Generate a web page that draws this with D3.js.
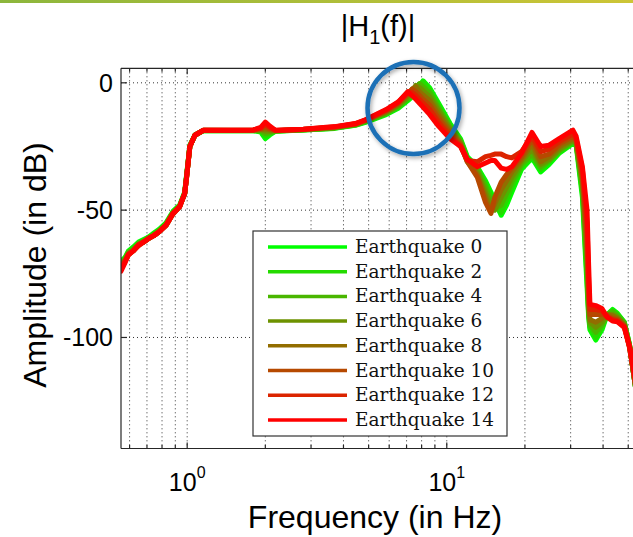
<!DOCTYPE html>
<html><head><meta charset="utf-8">
<script src="https://cdn.jsdelivr.net/npm/d3@7"></script>
<style>html,body{margin:0;padding:0;background:#fff;}svg{display:block;}</style>
</head><body>
<script>
// ---------- DATA ----------
const freqs = [
 0.556,0.577,0.594,0.62,0.65,0.68,0.712,0.744,0.78,0.829,0.881,0.935,0.978,0.995,1.024,1.071,1.156,
 1.5,1.8,1.92,2.0,2.08,2.19,2.8,3.7,4.44,
 4.86,5.84,6.5,7.08,7.35,7.6,7.85,8.1,8.6,9.3,10.3,11.3,
 12.0,13.1,14.1,14.8,15.3,16.2,17.0,17.8,19.4,21.3,23.0,24.8,27.2,30.6,31.5,
 33.3,34.7,35.2,35.6,37.5,39.6,41.5,43.5,45.4,48.3,50.6,52.9,55.4,57.7,62
];
const eq0 = [
 -70.0,-68.5,-66.0,-64.5,-62.5,-61.5,-60.5,-59.0,-57.5,-55.0,-50.5,-48.0,-43.0,-36.0,-24.5,-20.5,-18.8,
 -18.8,-18.8,-19.3,-21.9,-20.5,-19.0,-18.5,-17.9,-16.7,
 -15.5,-12.5,-10.0,-7.0,-5.5,-4.0,-1.5,0.8,-2.0,-8.0,-16.0,-22.0,
 -29,-33,-38.5,-43,-46.5,-52,-48,-43,-34,-29.5,-35,-32,-27.5,-23.8,-24.5,
 -45,-80,-92,-97,-101,-97,-91,-89,-90.5,-94,-103,-117,-132,-140,-155
];
const eq2 = [
 -70.5,-69.0,-66.5,-65.0,-63.0,-62.0,-60.5,-59.5,-58.0,-55.5,-51.0,-48.5,-43.0,-36.5,-25.0,-20.5,-18.7,
 -18.8,-18.7,-19.0,-20.9,-20.0,-18.9,-18.5,-17.8,-16.6,
 -15.3,-12.2,-9.6,-6.5,-5.0,-3.0,-0.5,0.3,-2.8,-9.0,-16.8,-22.5,
 -29.5,-33.5,-39.5,-44.5,-48,-51,-46,-41,-33,-29,-34,-31,-27,-23.5,-24,
 -43,-77,-91,-96,-100,-96,-91,-89.5,-91,-94,-103,-117,-131.5,-140,-155
];
const eq4 = [
 -71.0,-69.0,-66.5,-65.5,-63.0,-62.0,-61.0,-59.5,-58.0,-55.5,-51.0,-48.5,-43.5,-36.5,-25.0,-20.6,-18.7,
 -18.7,-18.7,-18.8,-19.9,-19.5,-18.9,-18.4,-17.7,-16.5,
 -15.1,-11.9,-9.2,-6.0,-4.2,-2.0,-0.3,-1.5,-4.0,-10.0,-17.5,-23.0,
 -30,-34,-41,-46.5,-49.5,-48,-43.5,-39,-32,-28,-33,-30.5,-26.5,-23,-24,
 -41,-73,-90,-95,-98,-95,-91,-90,-91.5,-94.5,-103,-117,-131,-139.5,-155
];
const eq6 = [
 -71.5,-69.5,-67.0,-65.5,-63.5,-62.5,-61.0,-60.0,-58.5,-55.5,-51.0,-48.5,-43.5,-37.0,-25.0,-20.6,-18.7,
 -18.7,-18.6,-18.5,-19.0,-19.0,-18.8,-18.4,-17.6,-16.4,
 -15.0,-11.6,-8.8,-5.4,-3.5,-1.0,-1.8,-3.0,-5.5,-11.0,-18.2,-23.5,
 -30.5,-35,-43,-48.5,-50,-45,-41,-37,-31,-26,-32,-30,-26,-22.5,-23.5,
 -39,-69,-88,-94,-96,-94,-91,-91,-92,-95,-103.5,-117,-131,-139,-154
];
const eq8 = [
 -72.0,-69.5,-67.0,-66.0,-63.5,-62.5,-61.0,-60.0,-58.5,-56.0,-51.5,-48.5,-43.5,-37.0,-25.0,-20.6,-18.6,
 -18.7,-18.6,-18.3,-18.1,-18.5,-18.8,-18.3,-17.5,-16.3,
 -14.8,-11.3,-8.4,-4.8,-2.5,-1.5,-3.5,-4.8,-7.0,-12.5,-19.0,-24.0,
 -31,-36,-45,-50.5,-47.5,-42,-38.5,-35,-30,-24,-31,-29,-25,-22,-23,
 -38,-65,-86,-93,-94,-92.5,-91,-91.5,-92.5,-95,-103.5,-117,-130.5,-139,-154
];
const eq10 = [
 -72.5,-70.0,-67.5,-66.0,-63.5,-62.5,-61.0,-60.0,-58.5,-56.0,-51.5,-48.7,-43.5,-37.0,-25.0,-20.6,-18.6,
 -18.6,-18.5,-18.0,-17.2,-18.0,-18.7,-18.3,-17.4,-16.2,
 -14.7,-11.0,-8.0,-4.2,-2.5,-3.5,-5.0,-6.5,-8.8,-14.0,-20.0,-24.5,
 -31,-37,-47,-51.3,-45,-39,-36,-33.5,-29,-22,-29,-28,-24,-21,-22.5,
 -36,-60,-83,-91,-91,-91,-91.5,-92.5,-93,-95.5,-104,-116.5,-130,-138.5,-153
];
const eq12 = [
 -73.0,-70.0,-67.5,-66.0,-64.0,-62.5,-61.0,-60.0,-58.5,-56.0,-51.5,-48.7,-43.5,-37.0,-25.0,-20.6,-18.6,
 -18.6,-18.5,-17.8,-16.3,-17.5,-18.7,-18.2,-17.3,-16.1,
 -14.6,-10.7,-7.7,-3.5,-3.8,-5.0,-6.5,-8.0,-10.5,-15.5,-21.0,-25.0,
 -30.5,-31,-29,-28.5,-28,-28,-29,-29.5,-27,-21,-27,-26,-23,-20,-22,
 -34,-55,-78,-89,-89,-89.5,-92,-93,-93.5,-96,-104,-116,-129,-138,-153
];
const eq14 = [
 -74.0,-70.5,-67.5,-66.0,-63.7,-62.5,-61.0,-60.0,-58.5,-55.9,-51.3,-48.7,-43.5,-37.0,-25.0,-20.6,-18.6,
 -18.6,-18.5,-17.5,-15.4,-17.0,-18.6,-18.2,-17.2,-16.0,
 -14.5,-10.5,-7.5,-3.6,-5.0,-6.5,-8.0,-9.5,-12.5,-17.0,-22.0,-25.0,
 -30,-33,-31.5,-30.5,-30.5,-33.5,-34,-33,-27.7,-19.5,-25,-24.5,-21.8,-18.6,-21,
 -33,-50,-72,-87,-87.5,-88.6,-92,-93.5,-93.8,-96,-103.6,-115,-128.4,-137,-152
];
const seriesNames = ["Earthquake 0","Earthquake 2","Earthquake 4","Earthquake 6","Earthquake 8","Earthquake 10","Earthquake 12","Earthquake 14"];
const seriesValues = [eq0, eq2, eq4, eq6, eq8, eq10, eq12, eq14];
const seriesColors = ["#00ff00","#24db00","#49b600","#6d9200","#926d00","#b64900","#db2400","#ff0000"];
const yTicks = [0, -50, -100];
const yTickLabels = ["0", "-50", "-100"];
const xMajorTicks = [1, 10];
const xMajorExp = ["0", "1"];
const xMinorTicks = [0.6,0.7,0.8,0.9,2,3,4,5,6,7,8,9,20,30,40,50,60,70];
const titleMain = "|H", titleSub = "1", titleEnd = "(f)|";
const xLabel = "Frequency (in Hz)";
const yLabel = "Amplitude (in dB)";

// ---------- LAYOUT ----------
const W = 633, H = 537;
const L = 121, T = 68.3, R = 700, B = 448.5;
const x = d3.scaleLog().domain([0.556, 94.5]).range([L, R]);
const y = d3.scaleLinear().domain([-143.6, 5.7]).range([B, T]);

const svg = d3.select("body").append("svg").attr("width", W).attr("height", H);
const defs = svg.append("defs");
const grad = defs.append("linearGradient").attr("id","topbar").attr("x1","0").attr("x2","1");
grad.append("stop").attr("offset","0").attr("stop-color","#8cb63c");
grad.append("stop").attr("offset","1").attr("stop-color","#cdc536");
defs.append("clipPath").attr("id","plotclip").append("rect")
  .attr("x", L).attr("y", T).attr("width", R - L).attr("height", B - T);
const sh = defs.append("filter").attr("id","shadow").attr("x","-20%").attr("y","-20%").attr("width","140%").attr("height","140%");
sh.append("feDropShadow").attr("dx",1.5).attr("dy",2).attr("stdDeviation",2).attr("flood-color","#000").attr("flood-opacity",0.35);

svg.append("rect").attr("x",0).attr("y",0).attr("width",W).attr("height",3).attr("fill","url(#topbar)");

// grid
const g = svg.append("g");
const gridStyle = sel => sel.attr("stroke","#333").attr("stroke-width",1).attr("stroke-dasharray","1,3");
xMajorTicks.concat(xMinorTicks).forEach(t => {
  g.append("line").attr("x1", x(t)).attr("x2", x(t)).attr("y1", T).attr("y2", B).call(gridStyle);
});
yTicks.forEach(t => {
  g.append("line").attr("x1", L).attr("x2", R).attr("y1", y(t)).attr("y2", y(t)).call(gridStyle);
});

// curves
const line = d3.line().x(d => x(d[0])).y(d => y(d[1]));
const curves = svg.append("g").attr("clip-path","url(#plotclip)");
seriesValues.forEach((vals, i) => {
  curves.append("path").datum(freqs.map((f, k) => [f, vals[k]]))
    .attr("d", line).attr("fill","none").attr("stroke", seriesColors[i])
    .attr("stroke-width", 5).attr("stroke-linejoin","round").attr("stroke-linecap","round");
});

// axes box & ticks
const ax = svg.append("g").attr("stroke","#262626").attr("stroke-width",1.2);
ax.append("line").attr("x1",L).attr("x2",R).attr("y1",T).attr("y2",T);
ax.append("line").attr("x1",L).attr("x2",R).attr("y1",B).attr("y2",B);
ax.append("line").attr("x1",L).attr("x2",L).attr("y1",T).attr("y2",B);
xMajorTicks.forEach(t => {
  ax.append("line").attr("x1",x(t)).attr("x2",x(t)).attr("y1",B).attr("y2",B-6);
  ax.append("line").attr("x1",x(t)).attr("x2",x(t)).attr("y1",T).attr("y2",T+6);
});
xMinorTicks.forEach(t => {
  ax.append("line").attr("x1",x(t)).attr("x2",x(t)).attr("y1",B).attr("y2",B-3.5);
  ax.append("line").attr("x1",x(t)).attr("x2",x(t)).attr("y1",T).attr("y2",T+3.5);
});
yTicks.forEach(t => {
  ax.append("line").attr("x1",L).attr("x2",L+6).attr("y1",y(t)).attr("y2",y(t));
});

// tick labels
const font = "'Liberation Sans', Arial, sans-serif";
yTicks.forEach((t, i) => {
  svg.append("text").attr("x", 113).attr("y", y(t)).attr("dy","0.36em")
    .attr("text-anchor","end").attr("font-family",font).attr("font-size",25).attr("fill","#000")
    .text(yTickLabels[i]);
});
xMajorTicks.forEach((t, i) => {
  const tx = svg.append("text").attr("x", x(t)).attr("y", 491)
    .attr("text-anchor","middle").attr("font-family",font).attr("font-size",25).attr("fill","#000");
  tx.append("tspan").text("10");
  tx.append("tspan").attr("dy",-13).attr("font-size",16).text(xMajorExp[i]);
});

// axis labels
svg.append("text").attr("x", 375).attr("y", 528).attr("text-anchor","middle")
  .attr("font-family",font).attr("font-size",32).attr("fill","#000").text(xLabel);
svg.append("text").attr("transform","translate(46,265) rotate(-90)").attr("text-anchor","middle")
  .attr("font-family",font).attr("font-size",32).attr("fill","#000").text(yLabel);

// title
const tt = svg.append("text").attr("x", 378).attr("y", 36).attr("text-anchor","middle")
  .attr("font-family",font).attr("font-size",29).attr("fill","#000");
tt.append("tspan").text(titleMain);
tt.append("tspan").attr("dy",8).attr("font-size",20).text(titleSub);
tt.append("tspan").attr("dy",-8).text(titleEnd);

// legend
const lg = svg.append("g");
lg.append("rect").attr("x",253).attr("y",231).attr("width",254).attr("height",205)
  .attr("fill","#fff").attr("stroke","#333").attr("stroke-width",1.2);
seriesNames.forEach((n, i) => {
  const ly = 247 + i * 24.7;
  lg.append("line").attr("x1",268).attr("x2",347).attr("y1",ly).attr("y2",ly)
    .attr("stroke",seriesColors[i]).attr("stroke-width",3.5);
  lg.append("text").attr("x",355).attr("y",ly + 6).attr("font-family","'DejaVu Serif', serif")
    .attr("font-size",18.5).attr("fill","#111").text(n);
});

// highlight circle
svg.append("circle").attr("cx",413.5).attr("cy",108).attr("r",46)
  .attr("fill","none").attr("stroke","#1b70b6").attr("stroke-width",4.5).attr("filter","url(#shadow)");
</script>
</body></html>
